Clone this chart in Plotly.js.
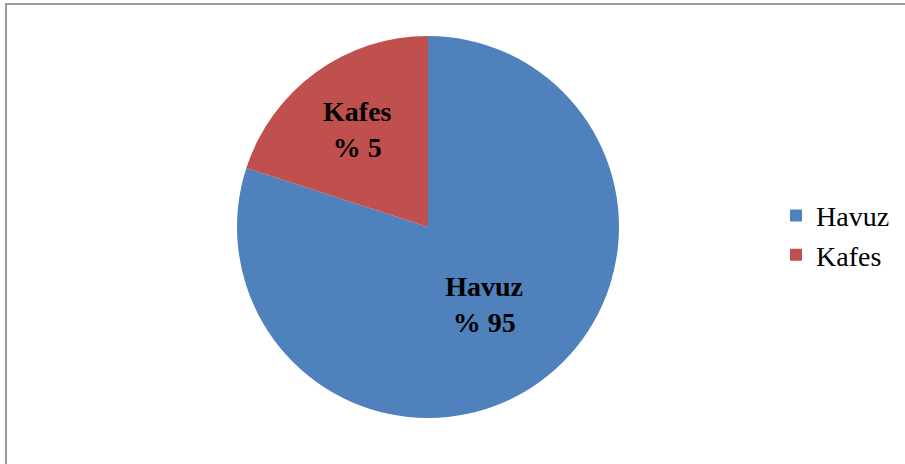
<!DOCTYPE html>
<html>
<head>
<meta charset="utf-8">
<script src="https://cdn.plot.ly/plotly-3.0.1.min.js"></script>
<style>html,body{margin:0;padding:0;background:#fff;}#chart{width:905px;height:464px;}</style>
</head>
<body>
<div id="chart"></div>
<script>
// Categories and values (slice shares; text labels as printed)
const categories = ["Havuz", "Kafes"];
const values = [80, 20];
const pctLabels = ["% 95", "% 5"];
const colors = ["#4F81BD", "#C0504D"];

const W = 905, H = 464;
const cx = 428, cy = 227, r = 191;
const SERIF = "Liberation Serif";

const trace = {
  type: "pie",
  labels: categories,
  values: values,
  text: pctLabels,
  texttemplate: "<b>%{label}<br>%{text}</b>",
  textinfo: "text",
  textposition: "inside",
  insidetextorientation: "horizontal",
  insidetextfont: {family: SERIF, size: 28, color: "#000"},
  hoverinfo: "label+value",
  sort: false,
  direction: "clockwise",
  rotation: 0,
  marker: {colors: colors, line: {width: 0}},
  domain: {x: [(cx - r) / W, (cx + r) / W], y: [(H - cy - r) / H, (H - cy + r) / H]},
  showlegend: true
};

const layout = {
  width: W, height: H,
  margin: {l: 0, r: 0, t: 0, b: 0},
  paper_bgcolor: "#fff",
  font: {family: SERIF, color: "#000"},
  showlegend: true,
  legend: {
    x: 776 / W, y: 0.493, xanchor: "left", yanchor: "middle",
    font: {family: SERIF, size: 28, color: "#000"},
    itemwidth: 30, bgcolor: "rgba(0,0,0,0)"
  },
  shapes: [{
    type: "rect", xref: "paper", yref: "paper",
    x0: 6 / W, x1: 1.05, y0: -0.05, y1: 1 - 4 / H,
    line: {color: "#9a9a9a", width: 2}, fillcolor: "rgba(0,0,0,0)"
  }]
};

Plotly.newPlot("chart", [trace], layout, {displayModeBar: false, staticPlot: true});
</script>
</body>
</html>
